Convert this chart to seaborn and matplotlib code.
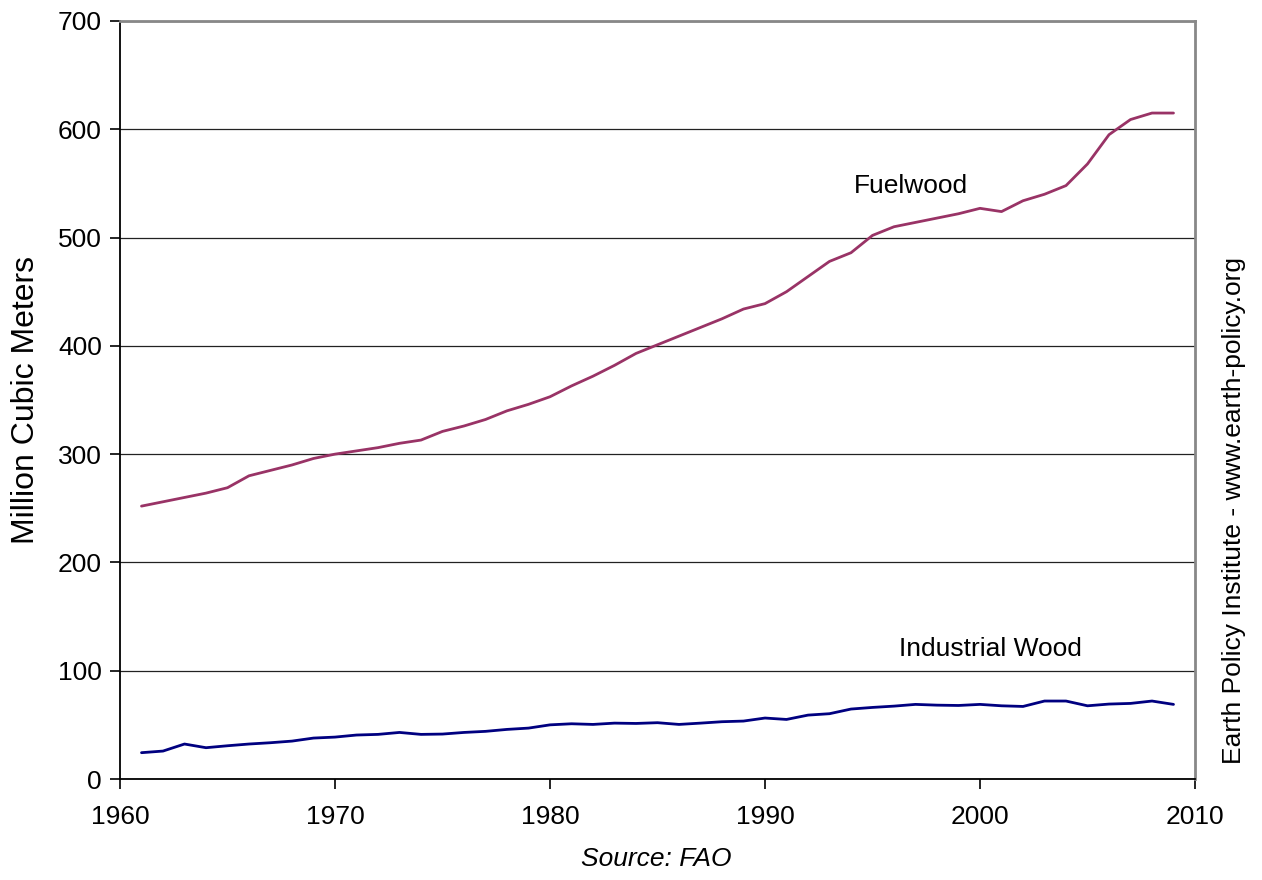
import pandas as pd
import matplotlib.pyplot as plt
import seaborn as sns
import numpy as np

years = list(range(1961, 2010))
fuelwood = [252, 256, 260, 264, 269, 280, 285, 290, 296, 300,
            303, 306, 310, 313, 321, 326, 332, 340, 346, 353,
            363, 372, 382, 393, 401, 409, 417, 425, 434, 439,
            450, 464, 478, 486, 502, 510, 514, 518, 522, 527,
            524, 534, 540, 548, 568, 595, 609, 615, 615]
industrial = [24.3, 25.8, 32.3, 28.9, 30.7, 32.3, 33.5, 35, 37.8, 38.7,
              40.6, 41.2, 43, 41.2, 41.5, 43, 44, 45.8, 47, 50,
              51, 50.4, 51.6, 51.3, 52, 50.4, 51.6, 52.9, 53.5, 56.3,
              55, 59, 60.3, 64.6, 66.1, 67.3, 68.9, 68.2, 67.9, 68.9,
              67.6, 67, 72, 72, 67.6, 69.2, 69.8, 72, 68.9]

df = pd.DataFrame({'year': years, 'Fuelwood': fuelwood, 'Industrial Wood': industrial})
df = df.melt(id_vars='year', var_name='kind', value_name='value')

sns.set_style('white')
plt.rcParams['font.family'] = ['Liberation Sans', 'DejaVu Sans']
plt.rcParams['text.color'] = 'black'
plt.rcParams['axes.labelcolor'] = 'black'
plt.rcParams['xtick.color'] = 'black'
plt.rcParams['ytick.color'] = 'black'

fig = plt.figure(figsize=(12.62, 8.8), dpi=100)
ax = fig.add_axes([120/1262, 1-779/880, (1195-120)/1262, (779-21)/880])

sns.lineplot(data=df, x='year', y='value', hue='kind', ax=ax,
             palette={'Fuelwood': '#993366', 'Industrial Wood': '#000080'},
             linewidth=2.0, legend=False)

ax.set_xlim(1960, 2010)
ax.set_ylim(0, 700)
ax.set_xticks(range(1960, 2011, 10))
ax.set_yticks(range(0, 701, 100))
ax.yaxis.grid(True, color='#222222', linewidth=0.9)
ax.set_axisbelow(True)
ax.tick_params(axis='both', labelsize=19, direction='out', length=7, width=1.2,
               color='black', left=True, bottom=True, pad=6)
ax.tick_params(axis='x', pad=12)

for s in ['left', 'bottom']:
    ax.spines[s].set_color('black')
    ax.spines[s].set_linewidth(1.3)
for s in ['top', 'right']:
    ax.spines[s].set_color('#888888')
    ax.spines[s].set_linewidth(2)

ax.set_xlabel('')
ax.set_ylabel('Million Cubic Meters', fontsize=23, labelpad=12)

ax.text(1996.8, 548, 'Fuelwood', fontsize=19, ha='center', va='center')
ax.text(2000.5, 120, 'Industrial Wood', fontsize=19, ha='center', va='center')

fig.text(1234/1262, 1-510/880, 'Earth Policy Institute - www.earth-policy.org',
         rotation=90, fontsize=19, ha='center', va='center')
fig.text(656/1262, 1-859/880, 'Source: FAO', fontsize=19, style='italic',
         ha='center', va='center')

fig.savefig('out.png', dpi=100)
